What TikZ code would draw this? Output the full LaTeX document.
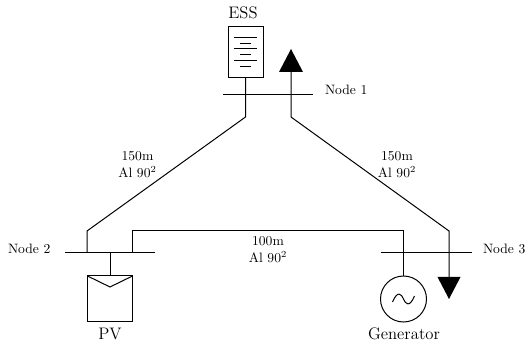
\documentclass[tikz,border=0pt]{standalone}
\usepackage{amsmath}
\usetikzlibrary{calc}

\tikzset{
    line_wire/.style={draw, line width=0.75pt},
    bus_bar/.style={fill=black, minimum height=0.75pt, inner sep=0pt},
    cap_label/.style={text centered, align=center, font=\fontsize{10.2}{12.75}\selectfont},
    node_label/.style={font=\fontsize{10.2}{12}\selectfont},
    dev_label/.style={font=\fontsize{12.5}{15}\selectfont}
}

\begin{document}
\begin{tikzpicture}[inner sep=0pt,outer sep=0pt,x=0.75pt,y=-0.75pt]
    \useasboundingbox (0,0) rectangle (528,345);

    % bus bars
    \node[bus_bar, minimum width=67.5pt] (bus_1) at (268,95) {};
    \node[bus_bar, minimum width=67.5pt] (bus_2) at (110,253) {};
    \node[bus_bar, minimum width=68pt] (bus_3) at (426.5,253) {};

    \node[node_label, anchor=west] (bus_1_cap) at (325,90) {Node 1};
    \node[node_label, anchor=west] (bus_2_cap) at (8,249) {Node 2};
    \node[node_label, anchor=west] (bus_3_cap) at (483,249) {Node 3};

    % ESS
    \node[draw, line width=0.75pt, minimum width=26.25pt, minimum height=38.25pt] (ess_box) at (245.5,52.5) {};
    \node[dev_label] (ess_cap) at (243,13) {ESS};
    \foreach \i/\yy/\hw in {1/-14.5/11.5, 2/-8.5/5.5, 3/-3.5/11.5, 4/2.5/5.5, 5/8.5/11.5, 6/14.5/5.5}
        \draw[line width=0.75pt] ($(ess_box.center)+(-\hw,\yy)$) -- ($(ess_box.center)+(\hw,\yy)$);

    % load at node 1
    \coordinate (load_1) at (291,72);
    \fill ($(load_1)+(-12,0)$) -- ($(load_1)+(12,0)$) -- ($(load_1)+(0,-23)$) -- cycle;

    % PV
    \node[draw, line width=0.75pt, minimum width=33.75pt, minimum height=33.75pt] (pv_box) at (110,298.5) {};
    \node[dev_label] (pv_cap) at (110,334) {PV};
    \draw[line width=0.75pt] (pv_box.north west) -- ($(pv_box.north)+(0,11)$) -- (pv_box.north east);

    % generator
    \node[draw, circle, line width=0.75pt, minimum size=34.5pt] (gen) at (403.5,299) {};
    \node[dev_label] (gen_cap) at (404,334) {Generator};
    \draw[line width=0.75pt] ($(gen.center)+(-11,3)$) .. controls ($(gen.center)+(-6,-9)$) and ($(gen.center)+(-2,-5)$) .. (gen.center) .. controls ($(gen.center)+(2,5)$) and ($(gen.center)+(6,9)$) .. ($(gen.center)+(11,-3)$);

    % load at node 3
    \coordinate (load_3) at (449,277);
    \fill ($(load_3)+(-11.5,0)$) -- ($(load_3)+(11.5,0)$) -- ($(load_3)+(0,22)$) -- cycle;

    % lines
    \coordinate (line_1a) at (245.5,117);
    \coordinate (line_1b) at (291,117);
    \coordinate (line_2a) at (87,231);
    \coordinate (line_2b) at (132,231);
    \coordinate (line_3a) at (449,231);
    \coordinate (line_3b) at (403.5,231);

    \draw[line_wire] (ess_box.south) -- (line_1a) -- (line_2a) -- (line_2a |- bus_2);
    \draw[line_wire] (load_1) -- (line_1b) -- (line_3a) -- (load_3);
    \draw[line_wire] (line_2b |- bus_2) -- (line_2b) -- (line_3b) -- (gen.north);
    \draw[line_wire] (bus_2) -- (pv_box.north);

    % line labels
    \node[cap_label] (line_12_cap) at (137.5,164.5) {150m \\ Al 90$^2$};
    \node[cap_label] (line_13_cap) at (397,164.5) {150m \\ Al 90$^2$};
    \node[cap_label] (line_23_cap) at (268,249.5) {100m \\ Al 90$^2$};
\end{tikzpicture}
\end{document}
